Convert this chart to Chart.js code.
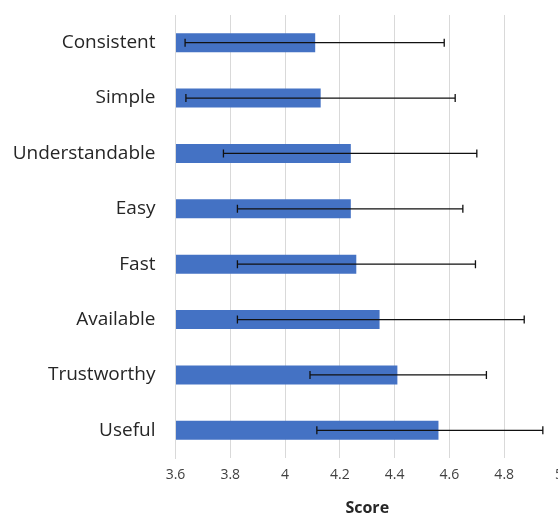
<!DOCTYPE html>
<html>
<head>
<meta charset="utf-8">
<script src="https://cdn.jsdelivr.net/npm/chart.js@4"></script>
<style>
  html, body { margin: 0; padding: 0; background: #fff; overflow: hidden; }
  #wrap { width: 558px; height: 514px; overflow: hidden; }
</style>
</head>
<body>
<div id="wrap"><canvas id="c" width="575" height="514"></canvas></div>
<script>
const categories = ["Consistent", "Simple", "Understandable", "Easy", "Fast", "Available", "Trustworthy", "Useful"];
const scores     = [4.11, 4.13, 4.24, 4.24, 4.26, 4.345, 4.41, 4.56];
const errLow     = [3.635, 3.638, 3.775, 3.826, 3.826, 3.826, 4.091, 4.116];
const errHigh    = [4.581, 4.621, 4.700, 4.649, 4.695, 4.873, 4.735, 4.941];
const xTickValues = [3.6, 3.8, 4.0, 4.2, 4.4, 4.6, 4.8, 5.0];
const xTickLabels = ["3.6", "3.8", "4", "4.2", "4.4", "4.6", "4.8", "5"];

const errorBarPlugin = {
  id: 'errorBars',
  afterDatasetsDraw(chart) {
    const ctx = chart.ctx;
    const xs = chart.scales.x, ys = chart.scales.y;
    ctx.save();
    ctx.strokeStyle = '#111';
    ctx.lineWidth = 1.3;
    categories.forEach((c, i) => {
      const y = ys.getPixelForValue(i);
      const x1 = xs.getPixelForValue(errLow[i]);
      const x2 = xs.getPixelForValue(errHigh[i]);
      ctx.beginPath();
      ctx.moveTo(x1, y); ctx.lineTo(x2, y);
      ctx.moveTo(x1, y - 4); ctx.lineTo(x1, y + 4);
      ctx.moveTo(x2, y - 4); ctx.lineTo(x2, y + 4);
      ctx.stroke();
    });
    ctx.restore();
  }
};

new Chart(document.getElementById('c'), {
  type: 'bar',
  data: {
    labels: categories,
    datasets: [{
      data: scores,
      backgroundColor: '#4472C4',
      borderWidth: 0,
      categoryPercentage: 1,
      barPercentage: 0.345,
      base: 3.6
    }]
  },
  options: {
    indexAxis: 'y',
    responsive: false,
    devicePixelRatio: 1,
    animation: false,
    layout: { padding: { left: 0, right: 16, top: 15, bottom: 0 } },
    plugins: { legend: { display: false }, tooltip: { enabled: false } },
    scales: {
      x: {
        min: 3.6, max: 5.0,
        afterBuildTicks(scale) { scale.ticks = xTickValues.map(v => ({ value: v })); },
        afterFit(scale) { scale.height = 56; scale.paddingLeft = 0; scale.paddingRight = 0; },
        grid: { color: '#d9d9d9', lineWidth: 1, drawTicks: false },
        border: { display: false },
        ticks: {
          padding: 9,
          color: '#404040',
          font: { family: 'Open Sans', size: 14 },
          callback: (v, i) => xTickLabels[i]
        },
        title: {
          display: true, text: 'Score', color: '#262626',
          font: { family: 'Open Sans', size: 16, weight: 'bold', lineHeight: 1 },
          padding: { top: 0, bottom: -2 }
        }
      },
      y: {
        afterFit(scale) { scale.width = 175.5; scale.paddingTop = 0; scale.paddingBottom = 0; },
        grid: { display: false, drawTicks: false },
        border: { display: true, color: '#d9d9d9' },
        ticks: {
          padding: 20,
          color: '#262626',
          font: { family: 'Open Sans', size: 19 }
        }
      }
    }
  },
  plugins: [errorBarPlugin]
});
</script>
</body>
</html>
